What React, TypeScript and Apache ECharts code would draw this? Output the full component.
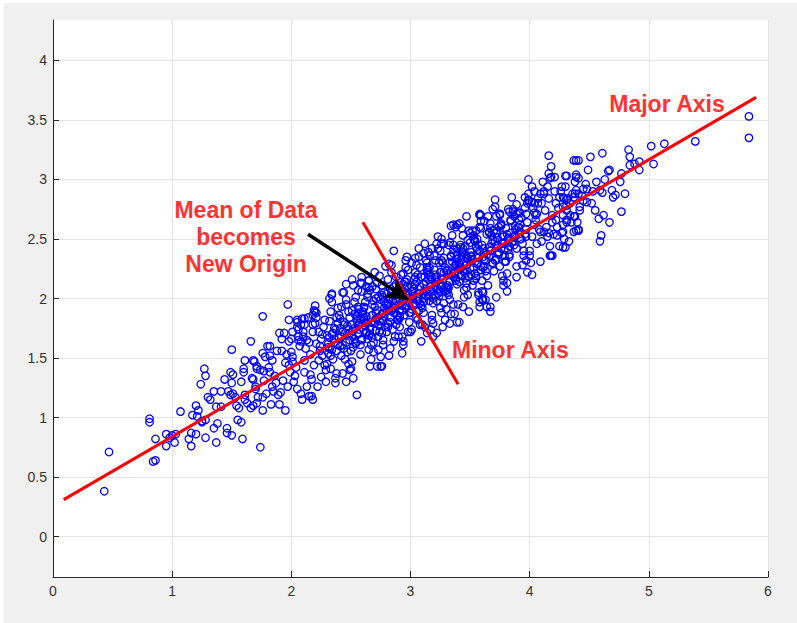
import React, { useEffect, useRef } from 'react';
import * as echarts from 'echarts';

const xTicks = [0, 1, 2, 3, 4, 5, 6];
const yTicks = [0, 0.5, 1, 1.5, 2, 2.5, 3, 3.5, 4];

const edgeLeft: [number, number][] = [
  [0.43,0.38],[0.47,0.71],[0.81,0.96],[0.81,0.99],[0.86,0.82],[0.84,0.63],[0.86,0.64],[0.95,0.86],[0.95,0.76],[0.98,0.83],
  [1.02,0.79],[1.03,0.86],[1.00,0.85],[1.14,0.82],[1.16,0.87],[1.16,0.76],[1.20,0.86],[1.25,0.96],[1.28,0.83],[1.35,0.91],
  [1.37,0.79],[1.38,0.95],[1.46,0.91],[1.46,0.87],[1.50,0.85],[1.59,0.82],[1.58,0.96],[1.55,0.98],[1.74,0.75],[1.76,1.85],
  [1.66,1.64],[1.50,1.57],[1.61,1.48],[1.69,1.47],[1.76,1.54],[1.78,1.51],[1.60,1.41],[1.60,1.38],[1.71,1.41],[1.74,1.40],
  [1.77,1.39],[1.27,1.41],[1.28,1.35],[1.24,1.28],[1.49,1.38],[1.44,1.32],[1.50,1.29],[1.58,1.30],[1.68,1.32],[1.35,1.22],
  [1.41,1.22],[1.47,1.22],[1.49,1.19],[1.61,1.19],[1.61,1.15],[1.70,1.24],[1.72,1.17],[1.76,1.17],[1.30,1.17],[1.32,1.15],
  [1.37,1.09],[1.41,1.09],[1.54,1.10],[1.56,1.08],[1.53,1.17],[1.63,1.12],[1.66,1.08],[1.68,1.10],[1.71,1.12],[1.76,1.06],
  [1.07,1.05],[1.20,1.10],[1.22,1.06],[1.17,1.02],[1.21,1.01],[1.25,0.97],[1.28,0.98],[1.51,1.36],[1.51,1.20],[1.68,1.48],
  [1.71,1.43],[1.67,1.33],[1.70,1.26],[1.77,1.31],[1.79,1.20],[1.84,1.26],[1.82,1.60],[1.82,1.52]
];

const edgeMid: [number, number][] = [
  [1.97,1.95],[1.98,1.82],[1.90,1.71],[1.92,1.66],[2.00,1.66],[2.05,1.82],[2.08,1.78],[2.11,1.83],[2.05,1.76],[2.09,1.83],
  [2.11,1.78],[2.10,1.72],[2.18,1.86],[2.20,1.79],[2.01,1.72],[2.06,1.65],[2.21,1.88],[2.34,2.03],[2.34,2.04],[2.32,2.00],
  [2.44,2.05],[2.46,2.12],[2.51,2.16],[2.52,2.11],[2.56,2.07],[2.59,2.18],[2.59,2.13],[2.63,2.10],[2.65,2.09],[2.65,2.15],
  [2.70,2.22],[2.77,2.01],[2.82,2.29],[2.86,2.40],[2.97,2.35],[2.55,1.19],[2.17,1.18],[2.18,1.15],[2.76,1.43],[2.72,1.43],
  [2.94,1.61],[2.93,1.68],[3.14,1.71],[3.12,1.76],[3.19,1.68],[3.19,1.79],[3.22,1.71],[2.94,2.21]
];

const edgeRight: [number, number][] = [
  [3.47,2.69],[3.59,2.70],[3.75,2.70],[3.82,2.75],[3.89,2.71],[3.39,2.62],[3.43,2.59],[3.36,2.62],[3.38,2.60],[3.26,2.50],
  [3.28,2.46],[3.32,2.45],[3.22,2.46],[3.15,2.39],[3.11,2.38],[3.07,2.35],[3.50,2.55],[3.53,2.50],[3.55,2.57],[3.58,2.60],
  [3.39,2.42],[3.44,2.39],[3.47,2.35],[3.67,1.89],[3.60,1.99],[3.58,1.93],[3.72,2.01],[3.81,2.06],[3.67,1.93],[3.64,1.93],
  [3.61,1.99],[3.60,2.06],[3.39,1.80],[3.41,1.80],[3.37,1.87],[3.44,1.93],[3.99,3.00],[4.16,3.05],[4.18,3.02],[4.31,3.03],
  [4.39,3.02],[4.04,2.90],[4.12,2.88],[4.21,2.90],[4.25,2.85],[3.96,2.85],[3.99,2.83],[4.02,2.81],[4.04,2.80],[4.38,2.88],
  [4.39,2.91],[4.37,2.85],[4.28,2.77],[4.31,2.74],[4.37,2.69],[4.39,2.57],[4.31,2.66],[4.28,2.56],[4.23,2.53],[4.16,2.55],
  [4.28,2.43],[4.17,2.36],[4.19,2.36],[4.09,2.31],[4.02,2.20],[3.89,2.18],[3.58,2.70],[3.75,2.71],[3.83,2.73],[3.92,2.72],
  [3.97,2.71],[4.06,2.71],[5.39,3.32],[5.13,3.30],[5.02,3.28],[5.04,3.13],[4.92,3.08],[4.92,3.15],[4.88,3.13],[4.83,3.25],
  [4.84,3.19],[4.84,3.12],[4.77,3.05],[4.76,2.98],[4.80,2.88],[4.77,2.73],[4.67,2.64],[4.60,2.53],[4.59,2.48],[4.61,3.22],
  [4.51,3.19],[4.37,3.16],[4.39,3.16],[4.41,3.16],[4.30,3.03],[4.41,3.01],[4.56,2.98],[4.63,3.00],[4.66,3.07],[4.67,3.08],
  [4.41,2.88],[4.45,2.92],[4.53,2.90],[4.59,2.91],[4.61,2.89],[4.69,2.91],[4.70,2.85],[4.72,2.87],[4.28,2.85],[4.31,2.83],
  [4.34,2.80],[4.42,2.77],[4.48,2.81],[4.52,2.80],[4.55,2.74],[4.58,2.67],[4.62,2.70],[4.38,2.69],[4.31,2.64],[4.28,2.62],
  [4.27,2.55],[4.30,2.43],[4.41,2.57],[5.84,3.53],[5.84,3.35],[4.16,3.20],[4.18,3.11],[4.17,3.01]
];

const coreA: [number, number][] = [
  [1.81,1.42],[1.85,1.22],[1.88,1.56],[1.83,1.11],[1.86,1.35],[1.80,1.60],[1.89,1.19],[1.84,1.48],[1.87,1.29],[1.82,1.38],
  [1.91,1.21],[1.95,1.46],[1.98,1.64],[1.93,1.31],[1.96,1.53],[1.90,1.11],[1.99,1.38],[1.94,1.71],[1.97,1.26],[1.92,1.56],[1.95,1.06],[1.98,1.44],
  [2.01,1.47],[2.05,1.24],[2.08,1.64],[2.03,1.35],[2.06,1.74],[2.00,1.55],[2.09,1.15],[2.04,1.42],[2.07,1.60],[2.02,1.30],[2.05,1.80],[2.08,1.20],[2.01,1.51],[2.06,1.68],
  [2.11,1.38],[2.15,1.63],[2.18,1.78],[2.13,1.26],[2.16,1.53],[2.10,1.68],[2.19,1.44],[2.14,1.84],[2.17,1.32],[2.12,1.58],[2.15,1.18],[2.18,1.72],[2.11,1.48],[2.16,1.36],[2.13,1.65],[2.19,1.90],
  [2.21,1.62],[2.25,1.34],[2.28,1.82],[2.23,1.48],[2.26,1.70],[2.20,1.89],[2.29,1.40],[2.24,1.56],[2.27,1.76],[2.22,1.26],[2.25,1.66],[2.28,1.44],[2.21,1.84],[2.26,1.52],[2.23,1.72],[2.29,1.30],[2.24,1.60],[2.20,1.94],
  [2.31,1.54],[2.35,1.71],[2.38,1.37],[2.33,1.89],[2.36,1.63],[2.30,1.45],[2.39,1.79],[2.34,1.97],[2.37,1.29],[2.32,1.67],[2.35,1.49],[2.38,1.84],[2.31,1.59],[2.36,1.75],[2.33,1.41],[2.39,1.92],[2.34,1.57],[2.30,1.69],[2.37,1.33],[2.32,1.81],
  [2.41,1.75],[2.45,1.49],[2.48,1.89],[2.43,1.61],[2.46,1.99],[2.40,1.67],[2.49,1.40],[2.44,1.80],[2.47,1.55],[2.42,1.93],[2.45,1.71],[2.48,1.45],[2.41,1.83],[2.46,1.30],[2.43,2.05],[2.49,1.65],[2.44,1.58],[2.40,1.86],[2.47,1.77],[2.42,1.52],[2.46,1.95],[2.43,1.37],
  [2.51,1.69],[2.55,1.85],[2.58,1.53],[2.53,1.97],[2.56,1.77],[2.50,1.41],[2.59,2.06],[2.54,1.63],[2.57,1.91],[2.52,1.59],[2.55,1.81],[2.58,2.13],[2.51,1.47],[2.56,1.71],[2.53,1.87],[2.59,1.66],[2.54,2.01],[2.50,1.56],[2.57,1.79],[2.52,1.33],[2.56,1.93],[2.53,1.75],[2.58,1.61],[2.55,1.83]
];

const coreB: [number, number][] = [
  [2.61,1.82],[2.65,1.57],[2.68,1.95],[2.63,1.71],[2.66,2.07],[2.60,1.89],[2.69,1.63],[2.64,2.01],[2.67,1.49],[2.62,1.77],[2.65,2.15],[2.68,1.67],[2.61,1.92],[2.66,1.74],[2.63,1.85],[2.69,1.55],[2.64,2.04],[2.60,1.87],[2.67,1.61],[2.62,1.97],[2.66,1.43],[2.63,1.79],[2.68,2.10],[2.65,1.69],
  [2.71,1.73],[2.75,1.99],[2.78,1.85],[2.73,1.57],[2.76,2.11],[2.70,1.79],[2.79,1.95],[2.74,2.19],[2.77,1.65],[2.72,1.90],[2.75,1.51],[2.78,2.05],[2.71,1.83],[2.76,1.71],[2.73,2.01],[2.79,2.27],[2.74,1.77],[2.70,1.93],[2.77,1.61],[2.72,2.13],[2.76,1.87],[2.73,1.68],[2.78,1.97],[2.75,1.43],[2.71,2.08],[2.74,1.81],
  [2.81,1.96],[2.85,1.74],[2.88,2.12],[2.83,1.58],[2.86,1.88],[2.80,2.04],[2.89,1.82],[2.84,2.22],[2.87,1.68],[2.82,2.00],[2.85,1.92],[2.88,1.78],[2.81,2.16],[2.86,1.64],[2.83,2.08],[2.89,1.86],[2.84,2.28],[2.80,1.72],[2.87,1.94],[2.82,1.52],[2.86,2.02],[2.83,1.80],[2.88,2.18],[2.85,1.98],[2.81,1.76],[2.84,1.90],
  [2.91,1.90],[2.95,2.14],[2.98,1.72],[2.93,2.04],[2.96,2.26],[2.90,1.82],[2.99,1.96],[2.94,1.64],[2.97,2.10],[2.92,2.20],[2.95,1.86],[2.98,2.00],[2.91,1.76],[2.96,2.32],[2.93,1.94],[2.99,1.80],[2.94,2.06],[2.90,1.68],[2.97,2.16],[2.92,2.02],[2.96,1.92],[2.93,1.54],[2.98,2.24],[2.95,2.08],[2.91,1.84],[2.94,1.98],
  [3.01,2.10],[3.05,1.84],[3.08,2.26],[3.03,1.94],[3.06,2.04],[3.00,1.72],[3.09,2.18],[3.04,2.34],[3.07,1.90],[3.02,2.00],[3.05,2.14],[3.08,1.78],[3.01,2.30],[3.06,1.98],[3.03,2.08],[3.09,1.64],[3.04,2.22],[3.00,1.88],[3.07,2.42],[3.02,2.06],[3.06,1.82],[3.03,2.16],[3.08,1.96],[3.05,2.28],[3.01,1.74],[3.04,2.12],
  [3.11,2.00],[3.15,2.24],[3.18,1.82],[3.13,2.14],[3.16,2.36],[3.10,1.92],[3.19,2.08],[3.14,2.30],[3.17,1.74],[3.12,2.18],[3.15,2.02],[3.18,2.42],[3.11,1.88],[3.16,2.20],[3.13,2.06],[3.19,1.96],[3.14,2.26],[3.10,1.78],[3.17,2.12],[3.12,2.46],[3.16,1.98],[3.13,2.32],[3.18,1.86],[3.15,2.16],[3.11,2.04],[3.14,2.22],
  [3.21,2.16],[3.25,1.92],[3.28,2.34],[3.23,2.04],[3.26,2.46],[3.20,2.24],[3.29,1.82],[3.24,2.12],[3.27,2.30],[3.22,1.98],[3.25,2.40],[3.28,2.08],[3.21,2.20],[3.26,1.88],[3.23,2.52],[3.29,2.26],[3.24,2.02],[3.20,2.36],[3.27,1.76],[3.22,2.18],[3.26,2.10],[3.23,2.42],[3.28,1.96],[3.25,2.22],[3.21,2.32],[3.24,2.06],
  [3.31,2.07],[3.35,2.31],[3.38,2.15],[3.33,2.47],[3.36,1.95],[3.30,2.23],[3.39,2.37],[3.34,1.87],[3.37,2.27],[3.32,2.03],[3.35,2.53],[3.38,2.17],[3.31,2.11],[3.36,2.41],[3.33,1.99],[3.39,2.33],[3.34,2.61],[3.30,1.91],[3.37,2.21],[3.32,2.09],[3.36,2.45],[3.33,1.79],[3.38,2.29],[3.35,2.19],[3.31,2.05],[3.34,2.35],
  [3.41,2.29],[3.45,2.07],[3.48,2.49],[3.43,2.19],[3.46,2.37],[3.40,1.95],[3.49,2.57],[3.44,2.23],[3.47,2.13],[3.42,2.43],[3.45,2.01],[3.48,2.33],[3.41,2.63],[3.46,2.17],[3.43,2.39],[3.49,1.89],[3.44,2.53],[3.40,2.25],[3.47,2.09],[3.42,2.45],[3.46,2.21],[3.43,2.35],[3.48,2.03],[3.45,2.31]
];

const coreC: [number, number][] = [
  [3.54,2.21],[3.50,2.47],[3.57,2.05],[3.52,2.33],[3.59,2.59],[3.55,2.17],[3.51,2.39],[3.58,1.97],[3.53,2.53],[3.56,2.29],[3.52,2.11],[3.59,2.65],[3.55,2.43],[3.50,2.25],[3.57,2.03],[3.54,2.49],[3.51,2.35],[3.58,2.71],[3.53,2.15],[3.56,2.41],[3.59,2.27],[3.52,2.57],[3.55,2.19],[3.57,2.45],
  [3.64,2.37],[3.60,2.15],[3.67,2.59],[3.62,2.27],[3.69,2.49],[3.65,2.69],[3.61,2.05],[3.68,2.41],[3.63,2.23],[3.66,2.55],[3.62,2.33],[3.69,2.75],[3.65,2.11],[3.60,2.45],[3.67,2.63],[3.64,2.19],[3.61,2.35],[3.68,2.53],[3.63,1.99],[3.66,2.43],[3.69,2.29],[3.62,2.65],
  [3.74,2.37],[3.70,2.57],[3.77,2.19],[3.72,2.69],[3.79,2.47],[3.75,2.27],[3.71,2.77],[3.78,2.11],[3.73,2.51],[3.76,2.63],[3.72,2.33],[3.79,2.41],[3.75,2.71],[3.70,2.23],[3.77,2.53],[3.74,2.39],[3.71,2.83],[3.78,2.15],[3.73,2.45],[3.76,2.61],[3.79,2.31],[3.72,2.55],
  [3.84,2.55],[3.80,2.31],[3.87,2.69],[3.82,2.41],[3.89,2.79],[3.85,2.47],[3.81,2.21],[3.88,2.61],[3.83,2.37],[3.86,2.73],[3.82,2.51],[3.89,2.27],[3.85,2.85],[3.80,2.59],[3.87,2.45],[3.84,2.65],[3.81,2.13],[3.88,2.53],[3.83,2.35],[3.86,2.75],
  [3.94,2.46],[3.90,2.72],[3.97,2.32],[3.92,2.62],[3.99,2.82],[3.95,2.40],[3.91,2.54],[3.98,2.22],[3.93,2.68],[3.96,2.76],[3.92,2.50],[3.99,2.88],[3.95,2.36],[3.90,2.60],[3.97,2.52],[3.94,2.28],[3.91,2.66],[3.98,2.80],
  [4.04,2.62],[4.00,2.40],[4.07,2.80],[4.02,2.52],[4.09,2.88],[4.05,2.70],[4.01,2.30],[4.08,2.58],[4.03,2.76],[4.06,2.46],[4.02,2.94],[4.09,2.56],[4.05,2.66],[4.00,2.36],[4.07,2.84],[4.04,2.72],
  [4.14,2.60],[4.10,2.80],[4.17,2.44],[4.12,2.90],[4.19,2.70],[4.15,2.52],[4.11,2.98],[4.18,2.36],[4.13,2.74],[4.16,2.84],[4.12,2.56],[4.19,2.64],[4.15,2.94],[4.10,2.48],
  [4.24,2.76],[4.20,2.54],[4.27,2.94],[4.22,2.66],[4.29,2.84],[4.25,2.44],[4.21,3.02],[4.28,2.70],[4.23,2.60],[4.26,2.90],[4.22,2.80],[4.29,2.50],
  [4.34,2.70],[4.30,2.94],[4.37,2.56],[4.32,2.84],[4.39,3.04],[4.35,2.64],[4.31,2.78],[4.38,2.98],[4.33,2.48],[4.36,2.88],
  [4.44,2.86],[4.40,2.64],[4.47,2.96],[4.42,2.74],[4.49,3.08],[4.45,2.82],[4.41,2.58],[4.48,2.92]
];

const coreD: [number, number][] = [
  [2.31,1.62],[2.33,1.52],[2.34,1.70],[2.32,1.58],
  [2.36,1.66],[2.38,1.56],[2.37,1.74],[2.39,1.61],
  [2.41,1.60],[2.43,1.72],[2.42,1.68],[2.44,1.78],
  [2.46,1.63],[2.48,1.74],[2.47,1.70],[2.49,1.84],
  [2.51,1.78],[2.53,1.66],[2.52,1.73],[2.54,1.62],[2.51,1.90],
  [2.56,1.70],[2.58,1.82],[2.57,1.74],[2.59,1.65],[2.56,1.88],
  [2.61,1.84],[2.63,1.72],[2.62,1.80],[2.64,1.66],[2.61,1.93],
  [2.66,1.76],[2.68,1.86],[2.67,1.80],[2.69,1.98],[2.66,1.70],
  [2.71,1.88],[2.73,1.78],[2.72,1.84],[2.74,1.72],[2.71,2.00],
  [2.76,1.82],[2.78,1.92],[2.77,1.88],[2.79,1.76],[2.76,2.03],
  [2.81,1.94],[2.83,1.84],[2.82,1.90],[2.84,2.06],[2.81,1.79],
  [2.86,1.88],[2.88,1.98],[2.87,1.92],[2.89,1.82],[2.86,2.10],
  [2.91,2.00],[2.93,1.90],[2.92,1.96],[2.94,2.12],[2.91,1.85],
  [2.96,1.94],[2.98,2.04],[2.97,1.98],[2.99,1.88],[2.96,2.14],
  [3.01,2.06],[3.03,1.96],[3.02,2.02],[3.04,2.18],[3.01,1.91],
  [3.06,2.00],[3.08,2.10],[3.07,2.04],[3.09,1.94],[3.06,2.20],
  [3.11,2.12],[3.13,2.02],[3.12,2.08],[3.14,2.24],[3.11,1.97],
  [3.16,2.06],[3.18,2.16],[3.17,2.10],[3.19,2.00],[3.16,2.26],
  [3.21,2.18],[3.23,2.08],[3.22,2.14],[3.24,2.30],[3.21,2.03],
  [3.26,2.12],[3.28,2.22],[3.27,2.16],[3.29,2.06],[3.26,2.32],
  [3.31,2.24],[3.33,2.14],[3.32,2.20],[3.34,2.36],[3.31,2.09],
  [3.36,2.18],[3.38,2.28],[3.37,2.22],[3.39,2.12],[3.36,2.38],
  [3.41,2.30],[3.43,2.20],[3.42,2.26],[3.44,2.42],[3.41,2.14],
  [3.46,2.24],[3.48,2.34],[3.47,2.28],[3.49,2.18],[3.46,2.44],
  [3.51,2.36],[3.53,2.26],[3.52,2.32],[3.54,2.48],[3.51,2.20],
  [3.56,2.30],[3.58,2.40],[3.57,2.34],[3.59,2.24],[3.56,2.50],
  [3.61,2.42],[3.63,2.32],[3.62,2.38],[3.64,2.54],[3.61,2.26],
  [3.66,2.36],[3.68,2.46],[3.67,2.40],[3.69,2.30],[3.66,2.56],
  [3.71,2.48],[3.73,2.38],[3.72,2.44],[3.74,2.60],[3.71,2.32],
  [3.76,2.42],[3.78,2.52],[3.77,2.46],[3.79,2.36],[3.76,2.62],
  [3.81,2.54],[3.83,2.44],[3.82,2.50],[3.84,2.66],
  [3.86,2.48],[3.88,2.58],[3.87,2.52],[3.89,2.42],
  [3.91,2.60],[3.93,2.50],[3.92,2.56],
  [3.96,2.54],[3.98,2.64],[3.97,2.58]
];

const majorAxis: [number, number][] = [[0.09, 0.31], [5.9, 3.69]];
const minorAxis: [number, number][] = [[2.6, 2.64], [3.4, 1.28]];
const arrowLine: [number, number][] = [[2.14, 2.54], [2.98, 1.99]];

const FONT = '"Liberation Sans", Arial, Helvetica, sans-serif';

export default function App() {
  const ref = useRef<HTMLDivElement>(null);
  useEffect(() => {
    if (!ref.current) return;
    const chart = echarts.init(ref.current, null, { renderer: 'svg' });
    const points = [...edgeLeft, ...coreA, ...edgeMid, ...coreB, ...coreD, ...coreC, ...edgeRight];
    const axisCommon = {
      type: 'value' as const,
      axisLine: { show: true, onZero: false, lineStyle: { color: '#262626', width: 1 } },
      splitLine: { show: true, lineStyle: { color: '#e4e4e4', width: 1 } },
    };
    chart.setOption({
      animation: false,
      grid: { left: 53, top: 20, width: 715, height: 557, show: true, backgroundColor: '#ffffff', borderWidth: 0 },
      xAxis: {
        ...axisCommon,
        min: 0, max: 6, interval: 1,
        axisTick: { show: true, inside: true, length: 6, lineStyle: { color: '#262626' } },
        axisLabel: { color: '#333333', fontSize: 14, fontFamily: FONT, margin: 7, customValues: xTicks },
      },
      yAxis: {
        ...axisCommon,
        min: -0.34, max: 4.34,
        axisTick: { show: true, inside: true, length: 6, lineStyle: { color: '#262626' }, customValues: yTicks },
        axisLabel: { color: '#333333', fontSize: 14, fontFamily: FONT, margin: 6, customValues: yTicks },
      },
      series: [
        {
          type: 'scatter',
          data: points,
          symbol: 'circle',
          symbolSize: 7.5,
          itemStyle: { color: 'rgba(0,0,0,0)', borderColor: '#0000ff', borderWidth: 1.3, opacity: 1 },
          silent: true,
          z: 2,
        },
        {
          type: 'line',
          data: majorAxis,
          showSymbol: false,
          lineStyle: { color: '#ff0000', width: 3 },
          silent: true,
          z: 3,
        },
        {
          type: 'line',
          data: minorAxis,
          showSymbol: false,
          lineStyle: { color: '#ff0000', width: 3 },
          silent: true,
          z: 3,
        },
        {
          type: 'line',
          data: [],
          silent: true,
          z: 4,
          markLine: {
            silent: true,
            symbol: ['none', 'arrow'],
            symbolSize: [17, 22],
            label: { show: false },
            lineStyle: { color: '#000000', width: 3.5, type: 'solid' },
            data: [[{ coord: arrowLine[0] }, { coord: arrowLine[1] }]],
          },
        },
      ],
      graphic: [
        {
          type: 'text', x: 246, y: 237, z: 10,
          style: {
            text: 'Mean of Data\nbecomes\nNew Origin', fill: '#ff3333', fontSize: 23, fontWeight: 'bold',
            fontFamily: FONT, align: 'center', verticalAlign: 'middle', lineHeight: 27,
          },
        },
        {
          type: 'text', x: 667, y: 104, z: 10,
          style: { text: 'Major Axis', fill: '#ff3333', fontSize: 23, fontWeight: 'bold', fontFamily: FONT, align: 'center', verticalAlign: 'middle' },
        },
        {
          type: 'text', x: 452, y: 350, z: 10,
          style: { text: 'Minor Axis', fill: '#ff3333', fontSize: 23, fontWeight: 'bold', fontFamily: FONT, align: 'left', verticalAlign: 'middle' },
        },
      ],
    });
    return () => chart.dispose();
  }, []);
  return (
    <div style={{ position: 'fixed', left: 0, top: 0, width: 797, height: 623, background: '#ffffff' }}>
      <div style={{ position: 'absolute', left: 4, top: 3, right: 0, bottom: 0, background: '#f0f0f0' }} />
      <div ref={ref} style={{ position: 'absolute', left: 0, top: 0, width: 797, height: 623 }} />
    </div>
  );
}
